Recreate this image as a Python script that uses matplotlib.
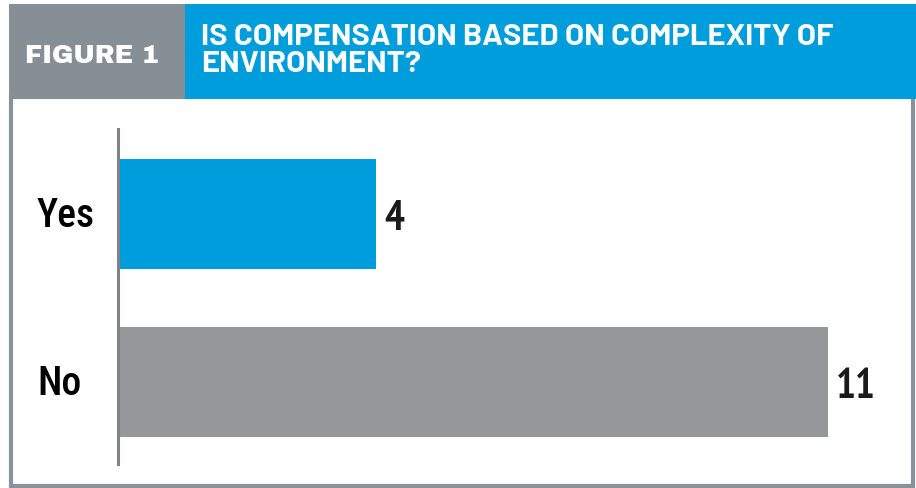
import matplotlib.pyplot as plt
import matplotlib.patches as mpatches
import matplotlib.transforms as mtransforms

categories = ["Yes", "No"]
values = [4, 11]
bar_colors = ["#009ddc", "#96979b"]
figure_label = "FIGURE 1"
title_lines = ["IS COMPENSATION BASED ON COMPLEXITY OF", "ENVIRONMENT?"]

W, H = 916, 489
fig = plt.figure(figsize=(W / 100, H / 100), dpi=100)
fig.patch.set_facecolor("white")

title_font = ["Barlow", "DejaVu Sans"]
label_font = ["Roboto Condensed", "DejaVu Sans"]
num_font = ["PT Sans Narrow", "DejaVu Sans"]


def px(x0, y0, x1, y1):
    # pixel box (top-left origin) -> figure fraction rect
    return (x0 / W, 1 - y1 / H, (x1 - x0) / W, (y1 - y0) / H)


# frame and header
frame = mpatches.Rectangle((11 / W, 2 / H), 902 / W, (H - 100) / H, transform=fig.transFigure,
                           facecolor="none", edgecolor="#87929a", linewidth=3)
fig.patches.append(frame)
gx, gy, gw, gh = px(9, 5, 185, 100)
bx, by, bw, bh = px(185, 5, 916, 100)
fig.patches.append(mpatches.Rectangle((gx, gy), gw, gh, transform=fig.transFigure,
                                      facecolor="#868f96", edgecolor="none"))
fig.patches.append(mpatches.Rectangle((bx, by), bw, bh, transform=fig.transFigure,
                                      facecolor="#009ddc", edgecolor="none"))

fig.text(92 / W, 1 - 63 / H, figure_label, color="white", fontsize=18.5,
         family=["Archivo Black", "DejaVu Sans"], ha="center", va="baseline")
for i, line in enumerate(title_lines):
    fig.text(201 / W, 1 - (45 + 27 * i) / H, line, color="white", fontsize=22.3, fontweight="bold",
             family=title_font, ha="left", va="baseline")

# bar chart
ax = fig.add_axes(px(118, 130, 118 + 774, 465))
ypos = [1, 0]
ax.barh(ypos, values, height=0.655, color=bar_colors, left=0)
ax.set_xlim(0, 12)
ax.set_ylim(-0.488, 1.506)
for s in ["top", "right", "bottom"]:
    ax.spines[s].set_visible(False)
ax.spines["left"].set_color("#808285")
ax.spines["left"].set_linewidth(2.2)
ax.set_xticks([])
ax.set_yticks(ypos)
ax.set_yticklabels(categories, fontsize=28.5, family=label_font, fontweight=500, ha="left")
ax.tick_params(axis="y", length=0, pad=81 * 0.72)
shift = mtransforms.ScaledTranslation(0, 3 / 100, fig.dpi_scale_trans)
for lab in ax.get_yticklabels():
    lab.set_transform(lab.get_transform() + shift)
ax.patch.set_alpha(0)
gap = 8 / 64.5
for y, v in zip(ypos, values):
    ax.text(v + gap, y, str(v), fontsize=30, family=num_font, fontweight="bold",
            va="center_baseline", ha="left", color="#1a1a1a")

fig.savefig("out.png", dpi=100)
